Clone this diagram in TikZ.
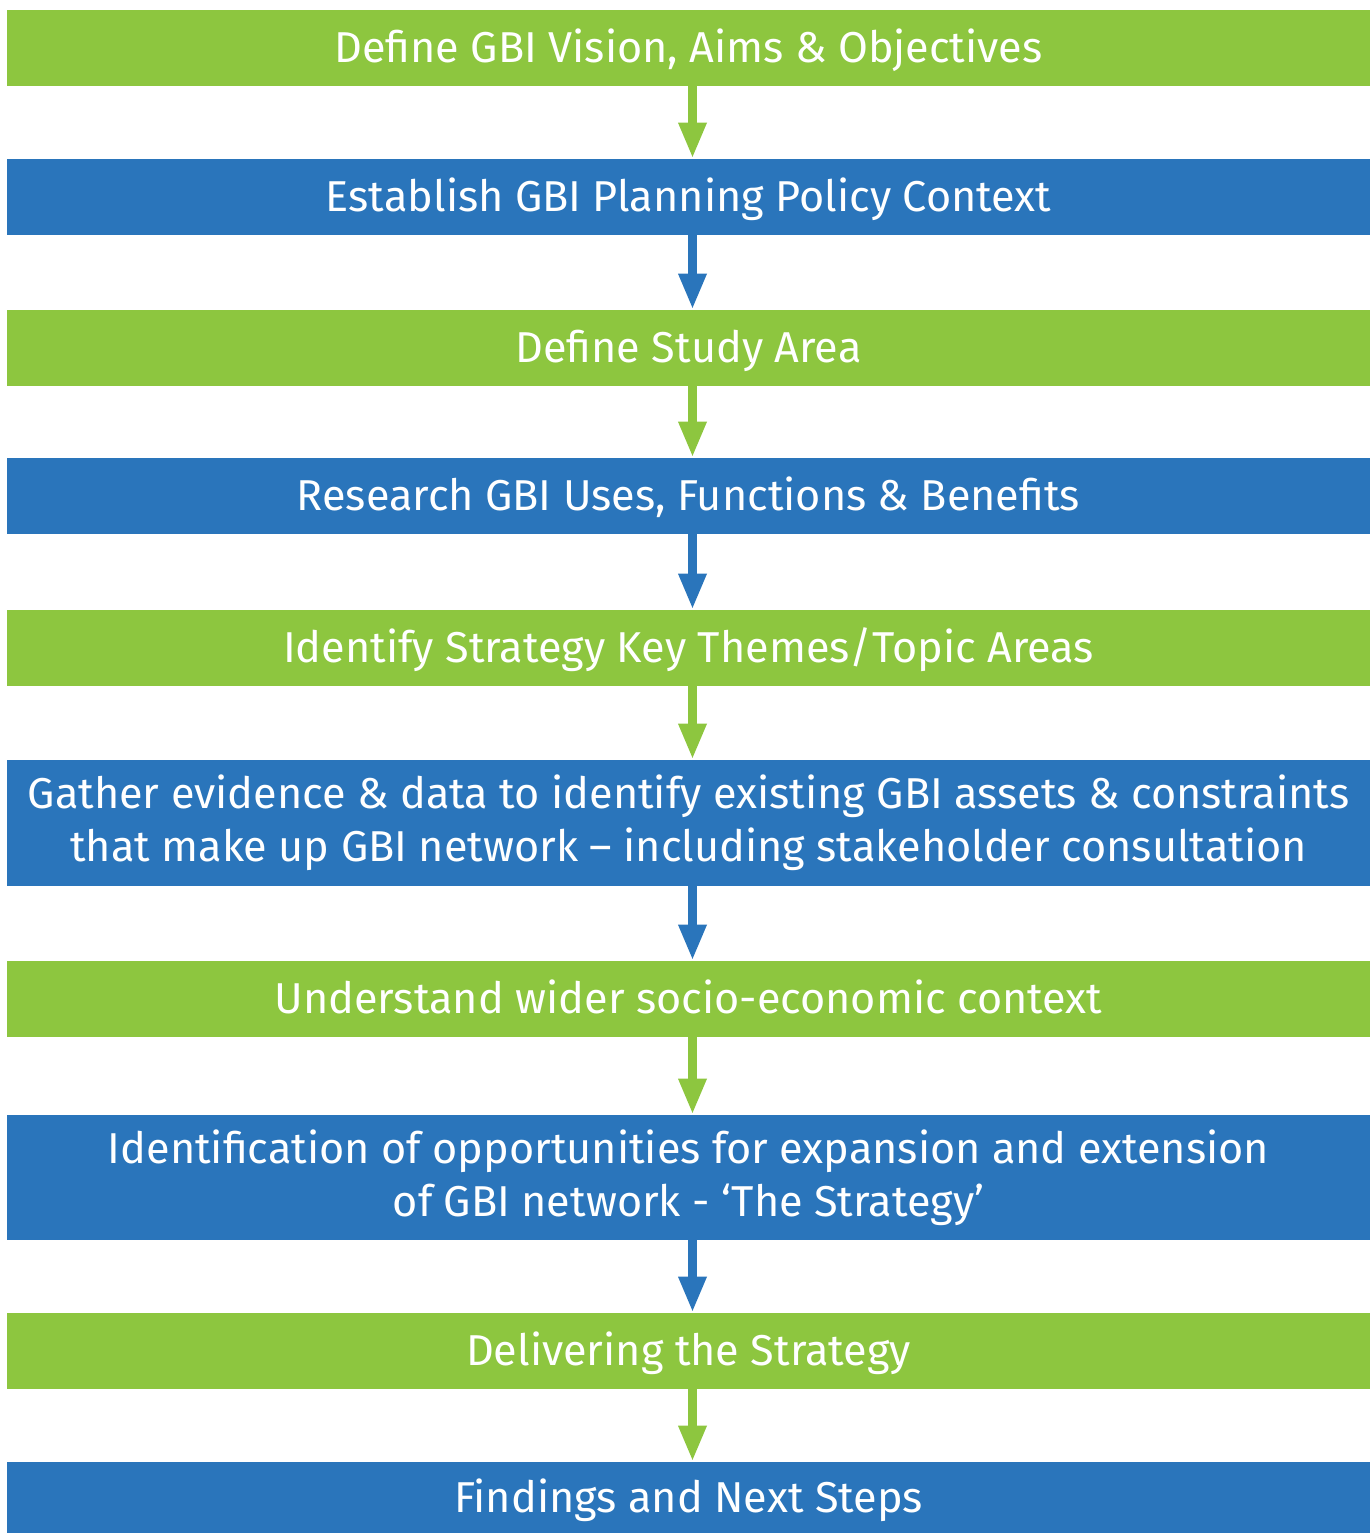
\documentclass[tikz,border=0pt]{standalone}
\usepackage{fontspec}
\setmainfont{Fira Sans}
\usetikzlibrary{arrows.meta}

\definecolor{gbigreen}{HTML}{8DC63F}
\definecolor{gbiblue}{HTML}{2A75BB}

\begin{document}
\begin{tikzpicture}[x=0.5pt,y=-0.5pt,
  stage/.style={minimum width=681.5pt, minimum height=38pt, inner sep=0pt,
    text=white, font=\fontsize{21.6}{26.5}\selectfont,
    text height=14.9pt, text depth=0pt},
  gstage/.style={stage, fill=gbigreen},
  bstage/.style={stage, fill=gbiblue},
  bwide/.style={stage, fill=gbiblue, minimum height=63pt, align=center,
    text height=, text depth=},
  flow/.style={line width=4.5pt, -{Triangle[width=13pt,length=18pt]},
    transform canvas={xshift=2pt}}]
\useasboundingbox (0,0) rectangle (1370,1533);
\node[gstage] (vision) at (688.5,48) {Define GBI Vision, Aims \& Objectives};
\node[bstage] (policy) at (688.5,197) {Establish GBI Planning Policy Context};
\node[gstage] (area) at (688.5,348) {Define Study Area};
\node[bstage] (uses) at (688.5,496) {Research GBI Uses, Functions \& Benefits};
\node[gstage] (themes) at (688.5,648) {Identify Strategy Key Themes/Topic Areas};
\node[bwide] (evidence) at (688.5,823)
  {Gather evidence \& data to identify existing GBI assets \& constraints\\
   that make up GBI network -- including stakeholder consultation};
\node[gstage] (context) at (688.5,999) {Understand wider socio-economic context};
\node[bwide, minimum height=62.5pt] (strategy) at (688.5,1177.5)
  {Identification of opportunities for expansion and extension\\
   of GBI network - `The Strategy'};
\node[gstage] (deliver) at (688.5,1351) {Delivering the Strategy};
\node[bstage, minimum height=35.5pt] (findings) at (688.5,1497.5) {Findings and Next Steps};
%
\draw[flow, gbigreen] (vision) -- (policy);
\draw[flow, gbiblue] (policy) -- (area);
\draw[flow, gbigreen] (area) -- (uses);
\draw[flow, gbiblue] (uses) -- (themes);
\draw[flow, gbigreen] (themes) -- (evidence);
\draw[flow, gbiblue] (evidence) -- (context);
\draw[flow, gbigreen] (context) -- (strategy);
\draw[flow, gbiblue] (strategy) -- (deliver);
\draw[flow, gbigreen] (deliver) -- (findings);
\end{tikzpicture}
\end{document}
